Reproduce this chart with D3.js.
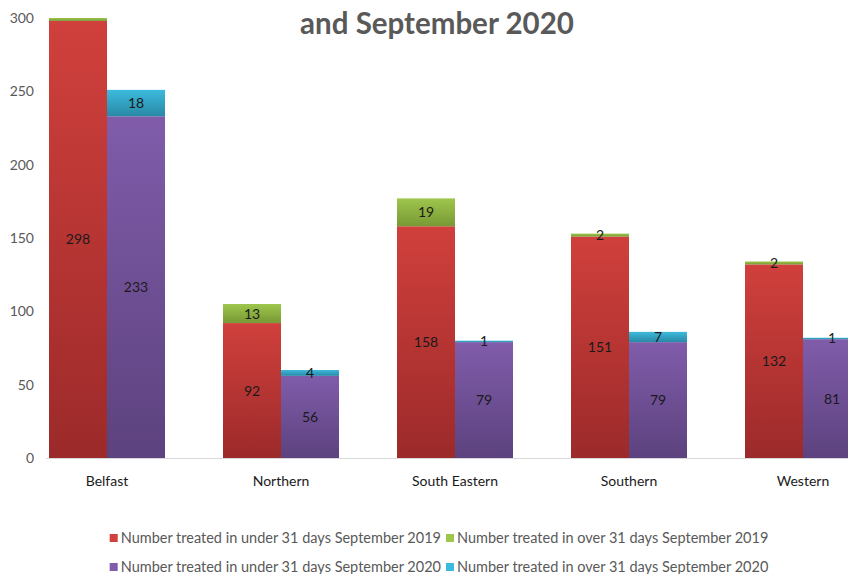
<!DOCTYPE html>
<html>
<head>
<meta charset="utf-8">
<script src="https://cdn.jsdelivr.net/npm/d3@7"></script>
<style>
  body { margin: 0; background: #fff; }
  svg { display: block; font-family: Lato, "Open Sans", sans-serif; }
</style>
</head>
<body>
<svg id="chart" width="848" height="574"></svg>
<script>
// data
const trusts = ["Belfast", "Northern", "South Eastern", "Southern", "Western"];
const under2019 = [298, 92, 158, 151, 132];
const over2019 = [2, 13, 19, 2, 2];
const under2020 = [233, 56, 79, 79, 81];
const over2020 = [18, 4, 1, 7, 1];
const yTicks = [0, 50, 100, 150, 200, 250, 300];
const legendRows = [
  ["Number treated in under 31 days September 2019", "Number treated in over 31 days September 2019"],
  ["Number treated in under 31 days September 2020", "Number treated in over 31 days September 2020"]
];

const svg = d3.select("#chart");
const W = 848;

// colours: [top, bottom] of each gradient
const colours = {
  red: ["#d0403c", "#9c2a2a"],
  green: ["#9ec64c", "#789935"],
  purple: ["#805caa", "#5c427e"],
  cyan: ["#3cbadd", "#2a88a6"]
};
const legendColours = ["red", "green", "purple", "cyan"];

const defs = svg.append("defs");
Object.entries(colours).forEach(([k, c]) => {
  const g = defs.append("linearGradient")
    .attr("id", "grad-" + k)
    .attr("x1", 0).attr("y1", 0).attr("x2", 0).attr("y2", 1);
  g.append("stop").attr("offset", "0%").attr("stop-color", c[0]);
  g.append("stop").attr("offset", "100%").attr("stop-color", c[1]);
});

const x = d3.scaleBand()
  .domain(trusts)
  .range([20, 890]);

const y = d3.scaleLinear()
  .domain([0, 300])
  .range([458, 18]);

const barW = 58;

// y tick labels
svg.append("g")
  .selectAll("text")
  .data(yTicks)
  .enter().append("text")
  .attr("x", 34)
  .attr("y", d => y(d) + 5)
  .attr("text-anchor", "end")
  .style("font-size", "14px")
  .attr("fill", "#595959")
  .text(d => d);

// axis line
svg.append("line")
  .attr("x1", 46).attr("x2", W)
  .attr("y1", y(0) + 0.5).attr("y2", y(0) + 0.5)
  .attr("stroke", "#d9d9d9");

// build segments
const segments = [];
trusts.forEach((t, i) => {
  const cx = x(t) + x.bandwidth() / 2;
  segments.push({ x: cx - barW, y0: 0, y1: under2019[i], v: under2019[i], c: "red" });
  segments.push({ x: cx - barW, y0: under2019[i], y1: under2019[i] + over2019[i], v: over2019[i], c: "green" });
  segments.push({ x: cx, y0: 0, y1: under2020[i], v: under2020[i], c: "purple" });
  segments.push({ x: cx, y0: under2020[i], y1: under2020[i] + over2020[i], v: over2020[i], c: "cyan" });
});

svg.append("g")
  .selectAll("rect")
  .data(segments)
  .enter().append("rect")
  .attr("x", d => d.x)
  .attr("y", d => y(d.y1))
  .attr("width", barW)
  .attr("height", d => y(d.y0) - y(d.y1))
  .attr("fill", d => `url(#grad-${d.c})`);

// data labels (the one sitting on the top edge is cut off in the original)
svg.append("g")
  .selectAll("text")
  .data(segments.filter(d => d.y1 < 300))
  .enter().append("text")
  .attr("x", d => d.x + barW / 2)
  .attr("y", d => y((d.y0 + d.y1) / 2) + 5)
  .attr("text-anchor", "middle")
  .style("font-size", "14px")
  .attr("fill", "#1a1a1a")
  .text(d => d.v);

// category labels
svg.append("g")
  .selectAll("text")
  .data(trusts)
  .enter().append("text")
  .attr("x", d => x(d) + x.bandwidth() / 2)
  .attr("y", 486)
  .attr("text-anchor", "middle")
  .style("font-size", "14px")
  .attr("fill", "#1a1a1a")
  .text(d => d);

// title (first line is cropped off the top of the picture)
svg.append("text")
  .attr("x", 437)
  .attr("y", 34)
  .attr("text-anchor", "middle")
  .style("font-size", "29.5px")
  .style("font-weight", "bold")
  .attr("fill", "#595959")
  .text("and September 2020");

// legend
legendRows.forEach((row, r) => {
  const g = svg.append("g");
  let cursor = 0;
  row.forEach((label, j) => {
    const item = g.append("g").attr("transform", `translate(${cursor},0)`);
    item.append("rect")
      .attr("x", 0).attr("y", -9)
      .attr("width", 8).attr("height", 8)
      .attr("fill", colours[legendColours[r * 2 + j]][0]);
    const t = item.append("text")
      .attr("x", 11)
      .attr("y", 0)
      .style("font-size", "14.5px")
      .attr("fill", "#595959")
      .text(label);
    cursor += 11 + t.node().getComputedTextLength() + 5;
  });
  const total = cursor - 5;
  g.attr("transform", `translate(${439 - total / 2},${543 + r * 29})`);
});
</script>
</body>
</html>
